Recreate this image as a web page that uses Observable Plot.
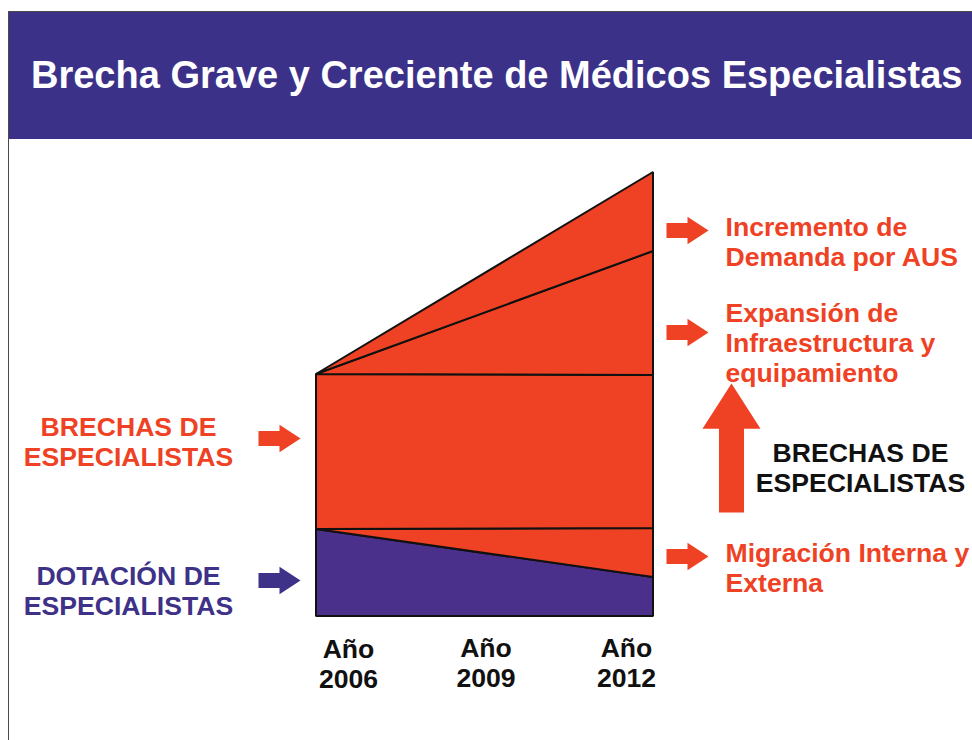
<!DOCTYPE html>
<html><head><meta charset="utf-8">
<script src="https://cdn.jsdelivr.net/npm/d3@7"></script>
<script src="https://cdn.jsdelivr.net/npm/@observablehq/plot@0.6"></script>
<style>
html,body{margin:0;padding:0;background:#fff;}
body{width:972px;height:740px;position:relative;overflow:hidden;font-family:"Liberation Sans",Arial,sans-serif;}
#frame{position:absolute;left:8px;top:11px;width:964px;height:729px;border-left:1.5px solid #4a4a4a;border-top:1.5px solid #4a4a4a;box-sizing:border-box;}
#banner{position:absolute;left:9px;top:12px;width:963px;height:127px;background:#3c3188;}
#title{position:absolute;left:31px;top:53px;margin:0;color:#fff;font-weight:bold;font-size:38px;line-height:44px;white-space:nowrap;}
#chart{position:absolute;left:0;top:139px;}
</style></head>
<body>
<div id="frame"></div>
<div id="banner"></div>
<h1 id="title">Brecha Grave y Creciente de Médicos Especialistas</h1>
<div id="chart"></div>
<script>
// ---- data (units: specialists, arbitrary scale) ----
const years = [2006, 2012];
const tickYears = [2006, 2009, 2012];
const layers = ["Dotación de especialistas", "Migración interna y externa", "Brecha de especialistas", "Expansión de infraestructura y equipamiento", "Incremento de demanda por AUS"];
const dotacion = [87, 39];
const migracion = [0, 49];
const brechaBase = [155, 153];
const infraestructura = [0, 124];
const demandaAUS = [0, 79];

const rightLabels = ["Incremento de\nDemanda por AUS", "Expansión de\nInfraestructura y\nequipamiento", "Migración Interna y\nExterna"];
const rightLabelLevels = [375, 274, 49];
const rightArrowLevels = [386, 284, 60];
const leftLabels = ["BRECHAS DE\nESPECIALISTAS", "DOTACIÓN DE\nESPECIALISTAS"];
const leftLabelLevels = [175, 26];
const leftArrowLevels = [178, 36];
const gapLabel = ["BRECHAS DE\nESPECIALISTAS"];
const gapLevel = [149];
const gapArrowLevel = [168.5];

// ---- build table ----
const seriesValues = [dotacion, migracion, brechaBase, infraestructura, demandaAUS];
const rows = [];
layers.forEach((layer, i) => years.forEach((year, j) => rows.push({layer, year, value: seriesValues[i][j]})));

const ORANGE = "#ef4224";
const PURPLE = "#4a2f8b";
const TEXT_PURPLE = "#3d3188";
const FONT = "'Liberation Sans', Arial, sans-serif";

const arrowRight = {
  draw(ctx, size) {
    const s = Math.sqrt(size / Math.PI);
    ctx.moveTo(-s, -0.36 * s);
    ctx.lineTo(0, -0.36 * s);
    ctx.lineTo(0, -0.65 * s);
    ctx.lineTo(s, 0);
    ctx.lineTo(0, 0.65 * s);
    ctx.lineTo(0, 0.36 * s);
    ctx.lineTo(-s, 0.36 * s);
    ctx.closePath();
  }
};
const arrowUp = {
  draw(ctx, size) {
    const s = Math.sqrt(size / Math.PI);
    ctx.moveTo(0, -s);
    ctx.lineTo(0.45 * s, -0.3 * s);
    ctx.lineTo(0.194 * s, -0.3 * s);
    ctx.lineTo(0.194 * s, s);
    ctx.lineTo(-0.194 * s, s);
    ctx.lineTo(-0.194 * s, -0.3 * s);
    ctx.lineTo(-0.45 * s, -0.3 * s);
    ctx.closePath();
  }
};

const txt = {fontSize: 26.6, fontWeight: "bold", lineHeight: 30 / 26.6, lineAnchor: "middle", fontFamily: FONT};
const idx = a => a.map((_, i) => i);

const chart = Plot.plot({
  width: 972,
  height: 601,
  marginLeft: 316,
  marginRight: 319,
  marginTop: 33,
  marginBottom: 124,
  x: {type: "linear", domain: [2006, 2012], axis: null},
  y: {domain: [0, 444], axis: null},
  color: {domain: layers, range: [PURPLE, ORANGE, ORANGE, ORANGE, ORANGE]},
  style: {fontFamily: FONT, overflow: "visible", background: "transparent"},
  marks: [
    Plot.areaY(rows, {x: "year", y: "value", z: "layer", fill: "layer", stroke: "#111", strokeWidth: 2, strokeLinejoin: "miter"}),
    // right side arrows and labels
    Plot.dot(idx(rightArrowLevels), {y: i => rightArrowLevels[i], frameAnchor: "right", dx: 34, r: 21, symbol: arrowRight, fill: ORANGE, stroke: "none"}),
    Plot.text(idx(rightLabels), {y: i => rightLabelLevels[i], text: i => rightLabels[i], frameAnchor: "right", dx: 72, textAnchor: "start", fill: ORANGE, ...txt}),
    // big up arrow + gap label
    Plot.dot(gapArrowLevel, {y: d => d, frameAnchor: "right", dx: 78, r: 64.5, symbol: arrowUp, fill: ORANGE, stroke: "none"}),
    Plot.text(idx(gapLabel), {y: i => gapLevel[i], text: i => gapLabel[i], frameAnchor: "right", dx: 207, textAnchor: "middle", fill: "#111", ...txt}),
    // left arrows and labels
    Plot.dot(idx(leftArrowLevels), {y: i => leftArrowLevels[i], frameAnchor: "left", dx: -37, r: 21, symbol: arrowRight, fill: i => i === 0 ? ORANGE : TEXT_PURPLE, stroke: "none"}),
    Plot.text(idx(leftLabels), {y: i => leftLabelLevels[i], text: i => leftLabels[i], frameAnchor: "left", dx: -188, textAnchor: "middle", fill: i => i === 0 ? ORANGE : TEXT_PURPLE, ...txt}),
    // year labels
    Plot.text([tickYears[0]], {x: d => d, text: d => `Año\n${d}`, frameAnchor: "bottom", dy: 47, dx: 32, textAnchor: "middle", fill: "#111", ...txt}),
    Plot.text([tickYears[1]], {x: d => d, text: d => `Año\n${d}`, frameAnchor: "bottom", dy: 46, dx: 1, textAnchor: "middle", fill: "#111", ...txt}),
    Plot.text([tickYears[2]], {x: d => d, text: d => `Año\n${d}`, frameAnchor: "bottom", dy: 46, dx: -27, textAnchor: "middle", fill: "#111", ...txt})
  ]
});
document.getElementById("chart").appendChild(chart);
</script>
</body></html>
